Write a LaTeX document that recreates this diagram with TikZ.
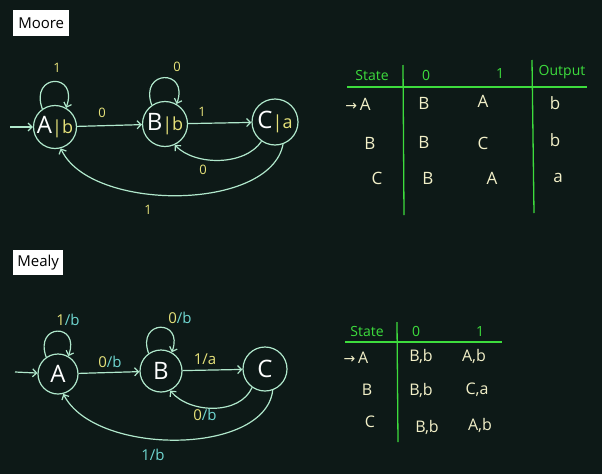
\documentclass[tikz,border=0pt]{standalone}
\usepackage{fontspec}
\setmainfont{Open Sans}
\newfontfamily\symfont{DejaVu Sans}
\usetikzlibrary{arrows.meta}
\definecolor{bg}{HTML}{0D1917}
\definecolor{chalk}{HTML}{B0E8CC}
\definecolor{yel}{HTML}{E6E27A}
\definecolor{cyn}{HTML}{6FD6D0}
\definecolor{tgrn}{HTML}{3DDC3D}
\definecolor{tent}{HTML}{F2F0C8}
\newcommand\stfont{\fontsize{24}{26}\selectfont}
\newcommand\subfont{\fontsize{18}{18}\selectfont}
\newcommand\rarr{{\symfont\fontsize{14}{14}\selectfont →}}
\tikzset{
  stt/.style={circle,draw=chalk,line width=1.2pt,inner sep=0pt},
  arr/.style={draw=chalk,line width=1.2pt,-{Straight Barb[length=4pt,width=8pt]}},
  lbl/.style={text=yel,font=\fontsize{13}{14}\selectfont,inner sep=0pt},
  mlbl/.style={text=yel,font=\fontsize{15}{16}\selectfont,inner sep=0pt},
  ttl/.style={fill=white,text=black,font=\fontsize{15}{17}\selectfont,inner sep=1.5pt,anchor=north west},
  hdr/.style={text=tgrn,font=\fontsize{14}{16}\selectfont,inner sep=0pt},
  ent/.style={text=tent,font=\fontsize{17}{19}\selectfont,inner sep=0pt},
  ment/.style={text=tent,font=\fontsize{16}{18}\selectfont,inner sep=0pt},
  tline/.style={draw=tgrn,line width=1.3pt},
}
\begin{document}
\begin{tikzpicture}[x=1pt,y=1pt]
\fill[bg] (0,0) rectangle (602,-474);
\useasboundingbox (0,0) rectangle (602,-474);

% ---------------- Moore ----------------
\node[ttl,minimum width=56pt,minimum height=26pt] (tmoore) at (13,-10) {Moore};

\node[stt,minimum size=43pt] (A) at (55,-127) {{\stfont\color{white}A}{\subfont\color{yel}|b}};
\node[stt,minimum size=45pt] (B) at (165,-124) {{\stfont\color{white}B}{\subfont\color{yel}|b}};
\node[stt,minimum size=46pt] (C) at (275,-122) {{\stfont\color{white}C}{\subfont\color{yel}|a}};
\coordinate (mi) at (10,-127);

\draw[arr] (mi) -- (A);
\draw[arr] (A.125) .. controls +(110:38) and +(70:38) .. (A.60);
\draw[arr] (A) -- (B);
\draw[arr] (B.125) .. controls +(110:38) and +(70:38) .. (B.60);
\draw[arr] (B) -- (C);
\draw[arr] (C.235) .. controls (245,-166) and (195,-166) .. (B.295);
\draw[arr] (C.290) .. controls (270,-212) and (90,-212) .. (A.285);

\node[lbl] (m1) at (57,-68) {1};
\node[lbl] (m2) at (102,-113) {0};
\node[lbl] (m3) at (177,-67) {0};
\node[lbl] (m4) at (202,-112) {1};
\node[lbl] (m5) at (203,-170) {0};
\node[lbl] (m6) at (148,-210) {1};

% Moore table
\node[hdr] (h1) at (372,-75) {State};
\node[hdr] (h2) at (426,-75) {0};
\node[hdr] (h3) at (500,-74) {1};
\node[hdr] (h4) at (562,-72) {Output};
\coordinate (hl1) at (347,-87);
\coordinate (hl2) at (587,-87);
\coordinate (vl1a) at (403,-65);
\coordinate (vl1b) at (404,-215);
\coordinate (vl2a) at (532,-60);
\coordinate (vl2b) at (534,-213);
\draw[tline] (hl1) -- (hl2);
\draw[tline] (vl1a) -- (vl1b);
\draw[tline] (vl2a) -- (vl2b);
\node[ent] (s1) at (358,-104) {\rarr\,A};
\node[ent] (s2) at (370,-143) {B};
\node[ent] (s3) at (377,-178) {C};
\node[ent] (a1) at (424,-103) {B};
\node[ent] (a2) at (424,-142) {B};
\node[ent] (a3) at (428,-178) {B};
\node[ent] (b1) at (483,-101) {A};
\node[ent] (b2) at (483,-143) {C};
\node[ent] (b3) at (492,-178) {A};
\node[ent] (c1) at (555,-103) {b};
\node[ent] (c2) at (555,-140) {b};
\node[ent] (c3) at (558,-178) {a};

% ---------------- Mealy ----------------
\node[ttl,minimum width=50pt,minimum height=25pt] (tmealy) at (13,-250) {Mealy};

\node[stt,minimum size=40pt] (MA) at (58,-374) {\stfont\color{white}A};
\node[stt,minimum size=42pt] (MB) at (161,-371) {\stfont\color{white}B};
\node[stt,minimum size=44pt] (MC) at (265,-369) {\stfont\color{white}C};
\coordinate (ni) at (15,-372);

\draw[arr] (ni) -- (MA);
\draw[arr] (MA.125) .. controls +(110:36) and +(70:36) .. (MA.60);
\draw[arr] (MA) -- (MB);
\draw[arr] (MB.125) .. controls +(110:36) and +(70:36) .. (MB.60);
\draw[arr] (MB) -- (MC);
\draw[arr] (MC.235) .. controls (240,-415) and (190,-414) .. (MB.295);
\draw[arr] (MC.290) .. controls (265,-456) and (95,-456) .. (MA.285);

\node[mlbl] (n1) at (68,-320) {1\textcolor{cyn}{/b}};
\node[mlbl] (n2) at (110,-362) {0\textcolor{cyn}{/b}};
\node[mlbl] (n3) at (180,-318) {0\textcolor{cyn}{/b}};
\node[mlbl] (n4) at (205,-359) {1/a};
\node[mlbl] (n5) at (205,-415) {0\textcolor{cyn}{/b}};
\node[mlbl,text=cyn] (n6) at (153,-455) {1/b};

% Mealy table
\node[hdr] (g1) at (367,-331) {State};
\node[hdr] (g2) at (416,-331) {0};
\node[hdr] (g3) at (480,-331) {1};
\coordinate (gl1) at (345,-342);
\coordinate (gl2) at (502,-342);
\coordinate (gv1) at (397,-322);
\coordinate (gv2) at (398,-442);
\draw[tline] (gl1) -- (gl2);
\draw[tline] (gv1) -- (gv2);
\node[ment] (t1) at (356,-358) {\rarr\,A};
\node[ment] (t2) at (367,-390) {B};
\node[ment] (t3) at (370,-422) {C};
\node[ment] (u1) at (421,-356) {B,b};
\node[ment] (u2) at (421,-390) {B,b};
\node[ment] (u3) at (427,-427) {B,b};
\node[ment] (w1) at (474,-356) {A,b};
\node[ment] (w2) at (477,-390) {C,a};
\node[ment] (w3) at (480,-425) {A,b};
\end{tikzpicture}
\end{document}
